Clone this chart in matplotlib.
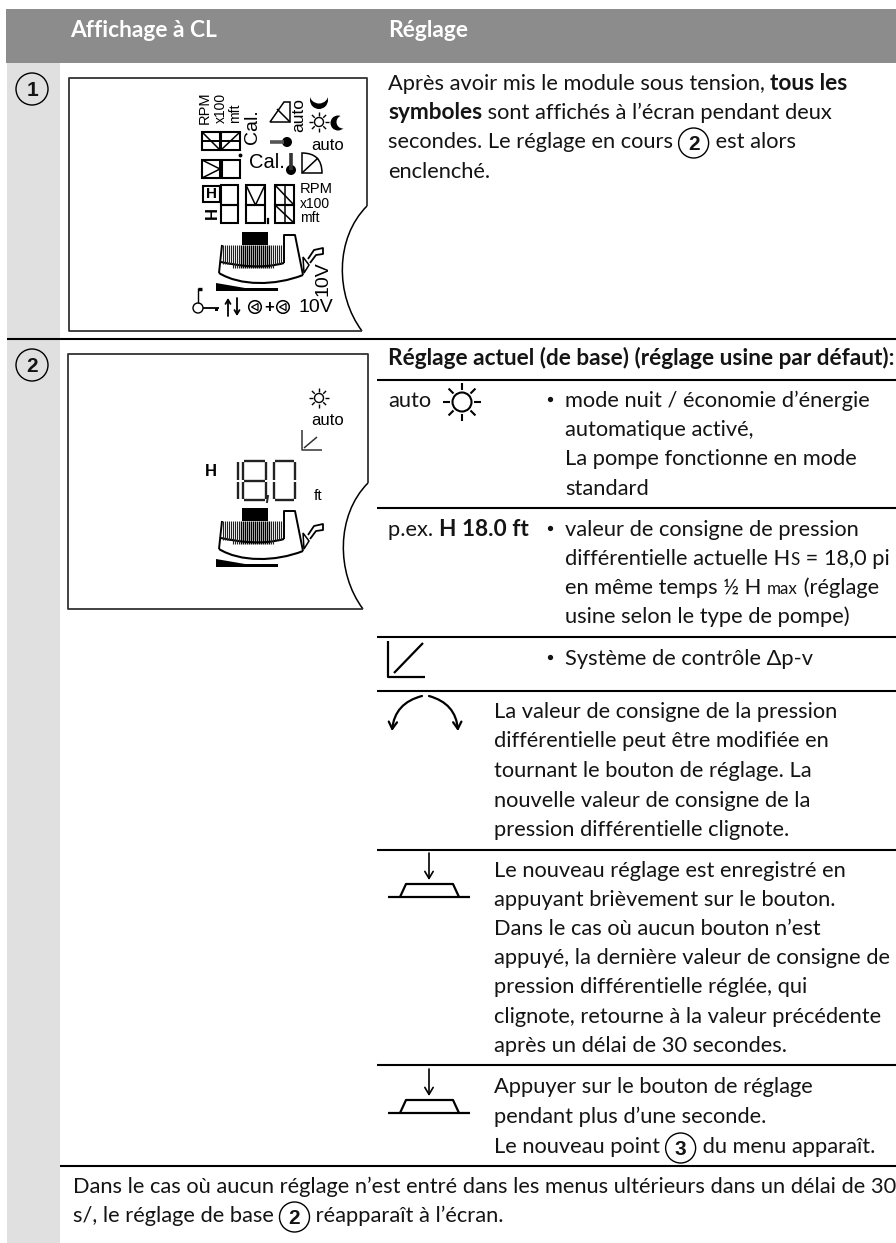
#!/usr/bin/env python

import matplotlib
matplotlib.use('Agg')
import matplotlib.pyplot as plt
from matplotlib.patches import Circle, PathPatch, Polygon, Rectangle
from matplotlib.path import Path

################################################################################

W, H = 896, 1243
FONT = 'Lato'
LCD = 'Liberation Sans'
INK = '#141414'
fs = 15.72
fs_bold = 16.3

header_labels = ['Affichage à CL', 'Réglage']
rule_ys = [380, 508, 637, 691, 850, 1065]

row1_lines = [
  [('Après avoir mis le module sous tension, ', 'normal'), ('tous les', 'bold')],
  [('symboles', 'bold'), (' sont affichés à l’écran pendant deux', 'normal')],
  [('secondes. Le réglage en cours ', 'normal'), ('(2)', 'circle'), (' est alors', 'normal')],
  [('enclenché.', 'normal')],
]
row1_ys = [90, 119, 148, 178]

row2_title = 'Réglage actuel (de base) (réglage usine par défaut):'

auto_lines = ['mode nuit / économie d’énergie', 'automatique activé,',
              'La pompe fonctionne en mode', 'standard']
auto_ys = [407, 436, 465, 495]

hs_lines = [
  [('valeur de consigne de pression', 'normal')],
  [('différentielle actuelle H', 'normal'), ('S', 'small'), (' = 18,0 pi', 'normal')],
  [('en même temps ½ H ', 'normal'), ('max', 'small'), (' (réglage', 'normal')],
  [('usine selon le type de pompe)', 'normal')],
]
hs_ys = [536, 565, 594, 623]

turn_lines = ['La valeur de consigne de la pression',
              'différentielle peut être modifiée en',
              'tournant le bouton de réglage. La',
              'nouvelle valeur de consigne de la',
              'pression différentielle clignote.']
turn_ys = [718, 747, 777, 807, 836]

press_lines = ['Le nouveau réglage est enregistré en',
               'appuyant brièvement sur le bouton.',
               'Dans le cas où aucun bouton n’est',
               'appuyé, la dernière valeur de consigne de',
               'pression différentielle réglée, qui',
               'clignote, retourne à la valeur précédente',
               'après un délai de 30 secondes.']
press_ys = [877, 906, 935, 964, 993, 1023, 1052]

hold_lines = [
  [('Appuyer sur le bouton de réglage', 'normal')],
  [('pendant plus d’une seconde.', 'normal')],
  [('Le nouveau point ', 'normal'), ('(3)', 'circle'), (' du menu apparaît.', 'normal')],
]
hold_ys = [1093, 1123, 1153]

foot_lines = [
  [('Dans le cas où aucun réglage n’est entré dans les menus ultérieurs dans un délai de 30', 'normal')],
  [('s/, le réglage de base ', 'normal'), ('(2)', 'circle'), (' réapparaît à l’écran.', 'normal')],
]
foot_ys = [1193, 1222]

################################################################################

fig = plt.figure(figsize=(W/100, H/100), dpi=100, facecolor='white')
ax = fig.add_axes([0, 0, 1, 1])
ax.set_xlim(0, W)
ax.set_ylim(H, 0)
ax.axis('off')
rend = fig.canvas.get_renderer()

def line(xs, ys, lw=1.4, c='black', **kw):
  ax.plot(xs, ys, lw=lw, c=c, solid_capstyle=kw.pop('cap', 'butt'), **kw)

def txt(x, y, s, size=fs, weight='normal', c=INK, family=FONT, **kw):
  kw.setdefault('va', 'baseline')
  return ax.text(x, y, s, fontsize=size, fontweight=weight, color=c, family=family, **kw)

def lcd(x, y, s, size, rot=0, ha='center', weight='normal'):
  return txt(x, y, s, size=size, family=LCD, rotation=rot, ha=ha, va='center', c='black', weight=weight)

def circled(cx, cy, s, r=15, lw=1.0):
  ax.add_patch(Circle((cx, cy), r, fc='none', ec='black', lw=lw))
  txt(cx, cy+7, s, size=15, weight='bold', ha='center', family=LCD)

def parts(x, y, segs):
  for s, kind in segs:
    if kind == 'circle':
      circled(x+15, y-5, s[1])
      x += 31
      continue
    if kind == 'small':
      size, weight = fs*.78, 'normal'
    elif kind == 'bold':
      size, weight = fs_bold, 'bold'
    else:
      size, weight = fs, 'normal'
    txt(x, y, s, size=size, weight=weight)
    # spaces at the ends count in the extent only as nbsp
    probe = txt(0, 0, s.replace(' ', '\u00a0'), size=size, weight=weight)
    x += probe.get_window_extent(rend).width
    probe.remove()

def bezier(p0, c1, c2, p1, lw=1.0):
  ax.add_patch(PathPatch(Path([p0, c1, c2, p1], [Path.MOVETO, Path.CURVE4, Path.CURVE4, Path.CURVE4]),
                         fc='none', ec='black', lw=lw))

def frame(x0, x1, y0, y1, y_notch, x_end):
  line([x_end, x0, x0, x1, x1], [y1, y1, y0, y0, y_notch], lw=1.3, c='#333333')
  bezier((x1, y_notch), (x1-32, y_notch+32), (x1-32, y1-36), (x_end, y1), lw=1.1)

def sun(cx, cy, r, ray0, ray1, lw=1.1):
  ax.add_patch(Circle((cx, cy), r, fc='none', ec='black', lw=lw))
  d = .7071
  for dx, dy in [(1, 0), (-1, 0), (0, 1), (0, -1), (d, d), (-d, d), (d, -d), (-d, -d)]:
    line([cx+dx*ray0, cx+dx*ray1], [cy+dy*ray0, cy+dy*ray1], lw=lw)

def pump(dy):
  # hatching of the bar
  for i in range(30):
    x = 223+i*2
    dark = 240 <= x <= 270
    bot = 262+(6 if 232 < x < 275 else 2)
    line([x, x], [245+dy, bot+dy], lw=1.0 if dark else .8, c='black' if dark else '#222222')
  ax.add_patch(Rectangle((242, 232+dy), 26, 13, fc='black', ec='none'))
  bezier((221, 262+dy), (240, 266+dy), (262, 269+dy), (284, 263+dy), lw=1.5)
  line([222, 219], [245+dy, 273+dy], lw=1.4)
  bezier((219, 273+dy), (240, 286+dy), (275, 286+dy), (303, 275+dy), lw=1.5)
  line([284, 284, 295, 303], [263+dy, 235+dy, 235+dy, 275+dy], lw=1.4)
  ax.add_patch(Polygon([(303, 257+dy), (309, 265+dy), (304, 273+dy)], fc='none', ec='black', lw=1.1))
  line([308, 314, 323, 323, 316, 310], [259+dy, 250+dy, 248+dy, 254+dy, 255+dy, 263+dy], lw=1.3)
  ax.add_patch(Polygon([(216, 283+dy), (245, 288+dy), (278, 288+dy), (278, 291+dy), (216, 291+dy)],
                       fc='black', ec='none'))

def seg_box(x0, y0, x1, y1, diag=None):
  ax.add_patch(Rectangle((x0, y0), x1-x0, y1-y0, fc='none', ec='black', lw=1.5))
  if diag == 'N':
    line([x0, x1], [y0, y1], lw=1.1)
  elif diag == '/':
    line([x0, x1], [y1, y0], lw=1.1)
  elif diag == 'V':
    line([x0, (x0+x1)/2, x1], [y0, y1, y0], lw=1.1)
  elif diag == '>':
    line([x0, x1, x0], [y0, (y0+y1)/2, y1], lw=1.1)

def fan(x0, y0, x1, y1, flip=False):
  # quarter dial symbol
  if flip:
    ax.add_patch(PathPatch(Path([(x0, y1), (x0, y0), (x1, y0), (x1, y1), (x0, y1)],
                                [Path.MOVETO, Path.LINETO, Path.CURVE3, Path.CURVE3, Path.CLOSEPOLY]),
                           fc='none', ec='black', lw=1.1))
    line([x0, x1-4], [y1, y0+5], lw=1.1)
  else:
    ax.add_patch(PathPatch(Path([(x0, y1), (x1-6, y0), (x1, y0), (x1, y1), (x0, y1)],
                                [Path.MOVETO, Path.LINETO, Path.LINETO, Path.LINETO, Path.CLOSEPOLY]),
                           fc='none', ec='black', lw=1.1))
    line([x0+7, x1], [y0+7, y1], lw=1.1)

def seven(x0, y0, x1, y1, on, lw=1.7, c='#222222'):
  ym = (y0+y1)/2
  g = 1
  s = {'t': ([x0+g, x1-g], [y0, y0]), 'm': ([x0+g, x1-g], [ym, ym]), 'b': ([x0+g, x1-g], [y1, y1]),
       'tl': ([x0, x0], [y0+g, ym-g]), 'bl': ([x0, x0], [ym+g, y1-g]),
       'tr': ([x1, x1], [y0+g, ym-g]), 'br': ([x1, x1], [ym+g, y1-g])}
  for k in on:
    line(*s[k], lw=lw, c=c)

def arrow(x0, y0, x1, y1, lw=1.2, rad=0, head=.3):
  ax.annotate('', xy=(x1, y1), xytext=(x0, y0),
              arrowprops=dict(arrowstyle=f'->,head_width={head},head_length={head*5/3}', lw=lw, color='black',
                              connectionstyle=f'arc3,rad={rad}', shrinkA=0, shrinkB=0))

def button(dy):
  arrow(429, 853+dy, 429, 880+dy, lw=1.2)
  line([388, 470], [897+dy, 897+dy], lw=1.6)
  line([400, 406, 453, 459], [897+dy, 884+dy, 884+dy, 897+dy], lw=1.6)

################################################################################

# backgrounds
ax.add_patch(Rectangle((7, 63), 53, H-63, fc='#e0e0e0', ec='none'))
ax.add_patch(Rectangle((6, 9), W-6, 54, fc='#8c8c8c', ec='none'))
txt(70, 37, header_labels[0], size=16.4, weight='bold', c='white')
txt(388, 37, header_labels[1], size=16.4, weight='bold', c='white')

# rules
line([7, W], [339, 339], lw=1.5)
for y in rule_ys:
  line([377, W], [y, y], lw=1.5)
line([60, W], [1166, 1166], lw=1.5)

circled(32, 89, '1', r=16, lw=1.0)
circled(32, 365, '2', r=16, lw=1.0)

# row 1 text
for segs, y in zip(row1_lines, row1_ys):
  parts(388, y, segs)

# row 2 text
txt(388, 365, row2_title, size=fs_bold, weight='bold')
txt(388, 407, 'auto')
sun(462, 402, 9.5, 12, 19, lw=1.5)
ax.plot([550], [399], 'o', ms=2.8, c=INK)
for s, y in zip(auto_lines, auto_ys):
  txt(565, y, s)

parts(388, 536, [('p.ex. ', 'normal'), ('H 18.0 ft', 'bold')])
ax.plot([550], [528], 'o', ms=2.8, c=INK)
for segs, y in zip(hs_lines, hs_ys):
  parts(565, y, segs)

line([388, 388, 425], [641, 677, 677], lw=1.6)
line([394, 423], [673, 643], lw=1.6)
ax.plot([550], [657], 'o', ms=2.8, c=INK)
txt(565, 665, 'Système de contrôle Δp-v')

# curved arrows
arrow(422, 696, 392, 731, lw=1.6, rad=.35)
arrow(429, 696, 458, 731, lw=1.6, rad=-.35)
for s, y in zip(turn_lines, turn_ys):
  txt(494, y, s)

button(0)
for s, y in zip(press_lines, press_ys):
  txt(494, y, s)

button(216)
for segs, y in zip(hold_lines, hold_ys):
  parts(494, y, segs)

for segs, y in zip(foot_lines, foot_ys):
  parts(73, y, segs)

# LCD panel 1
frame(69, 367, 78, 331, 206, 362)
lcd(205, 108, 'RPM', 10.5, rot=90)
lcd(221, 108, 'x100', 10, rot=90)
lcd(235, 113, 'mft', 10, rot=90)
seg_box(202, 132, 220, 150, 'N')
seg_box(221, 132, 240, 150, '/')
line([202, 240], [141, 141], lw=1.4)
seg_box(202, 160, 220, 178, '>')
seg_box(222, 160, 240, 178)
ax.plot([240], [155], 'o', ms=1.8, c='black')
lcd(253, 127, 'Cal.', 14, rot=90)
fan(270, 102, 290, 122)
lcd(299, 115, 'auto', 12.5, rot=90)
sun(319, 122, 4.5, 6, 10, lw=1.0)
# moons, cut out of filled discs
ax.add_patch(Circle((319, 100), 9, fc='black', ec='none'))
ax.add_patch(Circle((319, 94), 9.5, fc='white', ec='none'))
ax.add_patch(Circle((338, 123), 7.5, fc='black', ec='none'))
ax.add_patch(Circle((343, 122), 6.5, fc='white', ec='none'))
lcd(328, 145, 'auto', 12)
line([270, 284], [142, 142], lw=2.6, c='#555555')
ax.add_patch(Circle((287, 142), 5, fc='black', ec='none'))
lcd(267, 162, 'Cal.', 14.5)
line([291, 291], [153, 170], lw=2.6, c='#333333')
ax.add_patch(Circle((291, 170), 5, fc='black', ec='none'))
fan(302, 153, 322, 173, flip=True)
seg_box(203, 186, 220, 202)
lcd(211.5, 194, 'H', 11, weight='bold')
seg_box(221, 185, 238, 205)
seg_box(221, 205, 238, 223)
seg_box(246, 185, 265, 205, 'V')
seg_box(246, 205, 265, 223)
ax.plot([268, 268], [219, 223], lw=1.6, c='black')
seg_box(275, 185, 294, 205, 'N')
seg_box(275, 205, 294, 223, 'N')
line([285, 285], [185, 223], lw=1.1)
lcd(212, 213, 'H', 12, rot=90, weight='bold')
lcd(300, 189, 'RPM', 10.6, ha='left')
lcd(300, 204, 'x100', 10, ha='left')
lcd(300, 218, 'mft', 10, ha='left')
pump(0)
ax.add_patch(Circle((198, 308), 5, fc='none', ec='black', lw=1.0))
line([198, 198], [303, 288], lw=1.0)
line([198, 202], [289, 289], lw=2.4)
line([203, 219], [308, 308], lw=1.3)
ax.add_patch(Rectangle((215, 308), 3, 3, fc='black', ec='none'))
arrow(228, 316, 228, 298, lw=1.3, head=.18)
arrow(237, 298, 237, 316, lw=1.3, head=.18)
for cx in [255, 283]:
  ax.add_patch(Circle((cx, 307), 6.3, fc='none', ec='black', lw=1.1))
  ax.add_patch(Polygon([(cx-3.5, 307), (cx+3, 303.5), (cx+3, 310.5)], fc='none', ec='black', lw=.9))
lcd(269, 307, '+', 12, weight='bold')
lcd(299, 307, '10V', 14, ha='left')
lcd(323, 279, '10V', 14, rot=90)

# LCD panel 2
frame(68, 368, 354, 609, 483, 363)
sun(319, 398, 4.5, 6, 10, lw=1.0)
lcd(328, 420, 'auto', 12)
line([302, 302, 322], [430, 450, 450], lw=1.1, c='#333333')
line([304, 317], [448, 437], lw=1.1, c='#333333')
lcd(211, 471, 'H', 12, weight='bold')
seven(236, 461, 238, 500, ['tr', 'br'])
seven(243, 461, 266, 500, ['t', 'm', 'b', 'tl', 'bl', 'tr', 'br'])
ax.plot([268, 267], [496, 502], lw=1.4, c='#222222')
seven(274, 461, 295, 500, ['t', 'b', 'tl', 'bl', 'tr', 'br'])
lcd(318, 496, 'ft', 11)
pump(276)

fig.savefig('out.png', dpi=100, facecolor='white')
